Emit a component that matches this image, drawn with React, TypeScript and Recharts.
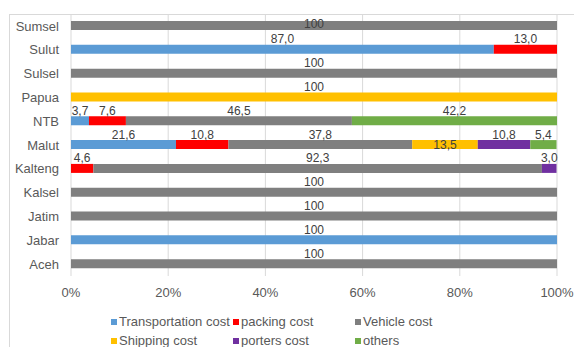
import { Bar, BarChart, CartesianGrid, LabelList, XAxis, YAxis } from 'recharts'

const regions = ['Sumsel', 'Sulut', 'Sulsel', 'Papua', 'NTB', 'Malut', 'Kalteng', 'Kalsel', 'Jatim', 'Jabar', 'Aceh']

// share of each cost item per region, in percent (null = no cost of that kind)
const transportation = [null, 87.0, null, null, 3.7, 21.6, null, null, null, 100, null]
const packing = [null, 13.0, null, null, 7.6, 10.8, 4.6, null, null, null, null]
const vehicle = [100, null, 100, null, 46.5, 37.8, 92.3, 100, 100, null, 100]
const shipping = [null, null, null, 100, null, 13.5, null, null, null, null, null]
const porters = [null, null, null, null, null, 10.8, 3.0, null, null, null, null]
const others = [null, null, null, null, 42.2, 5.4, null, null, null, null, null]

const xTicks = [0, 20, 40, 60, 80, 100]

// labels drawn inside the bar instead of above it
const insideLabels = [{ region: 'Malut', key: 'shipping' }]

const series = [
  { key: 'transportation', name: 'Transportation cost', color: '#5B9BD5', values: transportation },
  { key: 'packing', name: 'packing cost', color: '#FF0000', values: packing },
  { key: 'vehicle', name: 'Vehicle cost', color: '#7F7F7F', values: vehicle },
  { key: 'shipping', name: 'Shipping cost', color: '#FFC000', values: shipping },
  { key: 'porters', name: 'porters cost', color: '#7030A0', values: porters },
  { key: 'others', name: 'others', color: '#70AD47', values: others },
]

const data = regions.map((region, i) => {
  const row: Record<string, any> = { region }
  series.forEach((s) => {
    if (s.values[i] != null) row[s.key] = s.values[i]
  })
  return row
})

const FONT = '"Liberation Sans", Arial, sans-serif'

function formatValue(v: number) {
  if (v === 100) return '100'
  return v.toFixed(1).replace('.', ',')
}

function makeLabel(seriesKey: string) {
  return function SegmentLabel(props: any) {
    const { x, y, width, height, value } = props
    if (value == null) return null
    const [region, raw] = String(value).split('|')
    const inside = insideLabels.some((l) => l.region === region && l.key === seriesKey)
    const cx = Number(x) + Number(width) / 2
    const mid = Number(y) + Number(height) / 2
    const cy = inside ? mid : Math.max(mid - 10, 24)
    return (
      <text x={cx} y={cy} textAnchor="middle" dominantBaseline="central" fontSize={12} fill="#404040" fontFamily={FONT}>
        {formatValue(Number(raw))}
      </text>
    )
  }
}

function LegendBox() {
  return (
    <div
      style={{
        position: 'absolute',
        left: 111,
        top: 313,
        display: 'grid',
        gridTemplateColumns: '122px 122px 122px',
        rowGap: 2,
        fontFamily: FONT,
        fontSize: 13,
        color: '#595959',
        lineHeight: '17px',
      }}
    >
      {series.map((s) => (
        <div key={s.key} style={{ display: 'flex', alignItems: 'center', whiteSpace: 'nowrap' }}>
          <span style={{ width: 6, height: 6, background: s.color, marginRight: 2, display: 'inline-block' }} />
          {s.name}
        </div>
      ))}
    </div>
  )
}

export default function App() {
  return (
    <div style={{ position: 'absolute', left: 0, top: 0, width: 574, height: 347, background: '#fff', overflow: 'hidden' }}>
      <div
        style={{
          position: 'absolute',
          left: 9,
          top: 14,
          width: 700,
          height: 500,
          borderLeft: '1px solid #d9d9d9',
          borderTop: '1px solid #d9d9d9',
        }}
      />
      <BarChart
        width={574}
        height={347}
        data={data}
        layout="vertical"
        margin={{ top: 14, right: 17, bottom: 41, left: 0 }}
        barCategoryGap={0}
        style={{ position: 'absolute', left: 0, top: 0 }}
      >
        <CartesianGrid horizontal={false} stroke="#d9d9d9" />
        <XAxis
          type="number"
          domain={[0, 100]}
          ticks={xTicks}
          allowDataOverflow
          tickFormatter={(v) => `${v}%`}
          axisLine={false}
          tickLine={false}
          height={30}
          tick={{ fill: '#595959', fontSize: 13, fontFamily: FONT }}
          tickMargin={6}
        />
        <YAxis
          type="category"
          dataKey="region"
          width={71}
          interval={0}
          axisLine={false}
          tickLine={false}
          tick={{ fill: '#595959', fontSize: 13, fontFamily: FONT }}
          tickMargin={6}
        />
        {series.map((s) => (
          <Bar key={s.key} dataKey={s.key} name={s.name} stackId="cost" fill={s.color} barSize={9} isAnimationActive={false}>
            <LabelList
              dataKey={(d: any) => (d[s.key] == null ? null : `${d.region}|${d[s.key]}`)}
              content={makeLabel(s.key)}
            />
          </Bar>
        ))}
      </BarChart>
      <LegendBox />
    </div>
  )
}
